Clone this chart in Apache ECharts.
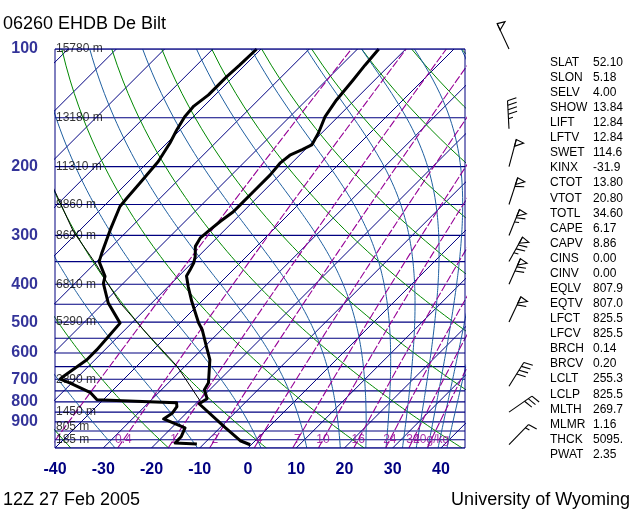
<!DOCTYPE html>
<html><head><meta charset="utf-8">
<script src="https://cdn.jsdelivr.net/npm/echarts@6/dist/echarts.min.js"></script>
<style>html,body{margin:0;padding:0;background:#fff}#c{width:640px;height:512px}</style>
</head><body><div id="c"></div>
<script>
// ---------------- data ----------------
const tempP = [1030,1006,933,809,785,745,715,624,582,523,502,443,406,381,368,353,340,320,305,290,276,261,251,232,210,196,187,181,176,164,149,135,120,110,100];
const tempT = [-0.2,-3.1,-8.8,-19.3,-18.7,-21.1,-21.7,-26.2,-29.3,-34.0,-36.2,-42.0,-45.8,-48.4,-48.9,-49.6,-50.6,-52.7,-53.4,-53.1,-52.7,-52.0,-52.0,-52.0,-52.0,-52.4,-52.0,-50.6,-49.6,-50.7,-52.7,-53.8,-54.5,-55.1,-55.6];
const dewP = [1026,1020,981,933,885,856,823,804,799,790,758,716,700,689,624,589,549,503,447,398,382,350,333,290,253,241,221,194,174,161,149,140,131,118,110,100];
const dewT = [-11.4,-16.1,-16.2,-17.2,-23.5,-22.9,-23.3,-24.2,-30.2,-41.3,-44.1,-50.3,-53.2,-53.1,-51.7,-51.7,-52.0,-52.4,-59.0,-64.1,-65.2,-69.5,-70.7,-73.8,-76.6,-76.9,-77.3,-78.0,-79.4,-80.7,-81.8,-82.1,-81.4,-81.4,-81.1,-80.9];
const parcelP = [798,649,523,488,447,394,353,293,227];
const parcelT = [-19.5,-31.6,-46.2,-50.7,-56.5,-63.8,-70.0,-81.1,-94.2];
const windP   = [1030,850,730,500,400,350,300,250,200,160,100];
const windDir = [44,55,32,25,24,29,22,18,15,357,335];
const windSpd = [15,30,40,60,70,75,65,60,50,45,50];
const pressureTicks = [100,200,300,400,500,600,700,800,900];
const tempTicks = [-40,-30,-20,-10,0,10,20,30,40];
const heightP = [100,150,200,250,300,400,500,700,850,925,1000];
const heightLabels = ['15780 m','13180 m','11310 m','9860 m','8690 m','6810 m','5290 m','2890 m','1450 m','805 m','185 m'];
const mixRatios = [0.1,0.4,1,2,4,7,10,16,24,32,40];
const mixLabels = ['','0.4','1','2','4','7','10','16','24','32','40g/kg'];
const indexNames = ['SLAT','SLON','SELV','SHOW','LIFT','LFTV','SWET','KINX','CTOT','VTOT','TOTL','CAPE','CAPV','CINS','CINV','EQLV','EQTV','LFCT','LFCV','BRCH','BRCV','LCLT','LCLP','MLTH','MLMR','THCK','PWAT'];
const indexValues = ['52.10','5.18','4.00','13.84','12.84','12.84','114.6','-31.9','13.80','20.80','34.60','6.17','8.86','0.00','0.00','807.9','807.0','825.5','825.5','0.14','0.20','255.3','825.5','269.7','1.16','5095.','2.35'];
const titleText = '06260 EHDB De Bilt';
const dateText = '12Z 27 Feb 2005';
const sourceText = 'University of Wyoming';

// ---------------- layout ----------------
const PTOP = 100, PBOT = 1050, XMIN = -40, XMAX = 45;
const G = {left:55, right:175, top:49, bottom:64};
const W = 640 - G.left - G.right, H = 512 - G.top - G.bottom;
const SKEW = (H / Math.log10(PBOT/PTOP)) / (W / (XMAX - XMIN)); // 45 degree isotherms
const sx = (T, p) => T + SKEW * Math.log10(PBOT / p);

const NAVY = '#000080', GREEN = '#008800', STEEL = '#1f5fa0', PURPLE = '#960096';

// ---------------- thermodynamic background ----------------
function es(T){ return 6.112*Math.exp(17.67*T/(T+243.5)); }
function ws(T,p){ const e = es(T); return 0.622*e/Math.max(p-e, 1e-3); }
function thetaE(T,p){ const K=T+273.15, w=ws(T,p); return K*Math.pow(1000/p,0.2857)*Math.exp(2.5e6*w/(1004*K)); }
function moistLapse(T,p){ const K=T+273.15, w=ws(T,p), Rd=287, cp=1004, L=2.5e6;
  return (Rd*K + L*w)/(p*(cp + L*L*w*0.622/(Rd*K*K))); }
const levels = []; for (let p = PBOT; p >= PTOP; p -= 10) levels.push(p);

const bg = [];
function addLine(pts, color, width, dash){
  bg.push({type:'line', data:pts, showSymbol:false, symbol:'none', silent:true, clip:true,
    lineStyle:{color, width, type: dash || 'solid'}, z:1, animation:false});
}
// isobars
for (let p = PTOP; p <= PBOT; p += 50) addLine([[XMIN,p],[XMAX,p]], NAVY, 1.1);
// isotherms
for (let T = -140; T <= 40; T += 10) addLine([[sx(T,PBOT),PBOT],[sx(T,PTOP),PTOP]], NAVY, 1);
// dry adiabats
for (let th = -60; th <= 240; th += 20) {
  const K = th + 273.15;
  addLine(levels.map(p => [sx(K*Math.pow(p/1000,0.2857)-273.15, p), p]), GREEN, 1);
}
// moist adiabats
for (let te = 243.15; te <= 463.15; te += 20) {
  let lo=-90, hi=60;
  for (let k=0;k<60;k++){ const m=(lo+hi)/2; if (thetaE(m,PBOT)>te) hi=m; else lo=m; }
  let T=(lo+hi)/2, p=PBOT; const pts=[[sx(T,p),p]];
  while (p > PTOP + 1e-6) { const dp=-5; const k1=moistLapse(T,p); const k2=moistLapse(T+k1*dp/2,p+dp/2); T+=k2*dp; p+=dp; pts.push([sx(T,p),p]); }
  addLine(pts, STEEL, 1);
}
// mixing ratio lines
function mixT(w,p){ const e=(w/1000)*p/(0.622+w/1000); const l=Math.log(e/6.112); return 243.5*l/(17.67-l); }
mixRatios.forEach(w => addLine(levels.map(p => [sx(mixT(w,p),p),p]), PURPLE, 1.1, [8,2]));

// ---------------- chart ----------------
const chart = echarts.init(document.getElementById('c'), null, {renderer:'canvas'});
const labelFont = 'Liberation Sans';

const series = bg.concat([
  {type:'scatter', data: mixRatios.map((w,i)=>[sx(mixT(w,1000),1000),1000,i]), symbolSize:0, silent:true, clip:false, z:3,
   label:{show:true, position:'inside', color:PURPLE, fontSize:12, fontFamily:labelFont, formatter:(d)=>mixLabels[d.value[2]]}},
  {type:'scatter', data: heightP.map((p,i)=>[XMIN,p,i]), symbolSize:0, silent:true, clip:false, z:3,
   label:{show:true, position:'right', distance:1, color:'#000', fontSize:12, fontFamily:labelFont, formatter:(d)=>heightLabels[d.value[2]]}},
  {type:'scatter', data: pressureTicks.map(p=>[XMIN,p]), symbolSize:0, silent:true, clip:false, z:3,
   label:{show:true, position:'left', distance:17, color:NAVY, fontSize:16, fontWeight:'bold', fontFamily:labelFont, formatter:(d)=>String(d.value[1])}},
  {type:'line', data: parcelP.map((p,i)=>[sx(parcelT[i],p),p]), showSymbol:false, symbol:'none', clip:true, z:4,
   lineStyle:{color:'#000', width:1}},
  {type:'line', data: dewP.map((p,i)=>[sx(dewT[i],p),p]), showSymbol:false, symbol:'none', clip:true, z:5,
   lineStyle:{color:'#000', width:3, join:'round'}},
  {type:'line', data: tempP.map((p,i)=>[sx(tempT[i],p),p]), showSymbol:false, symbol:'none', clip:true, z:5,
   lineStyle:{color:'#000', width:3, join:'round'}},
  {type:'custom', xAxisIndex:1, yAxisIndex:1, clip:false, z:5,
   data: windP.map((p,i)=>[0,p,windDir[i],windSpd[i]]),
   renderItem:(params, api) => {
     const b = api.coord([api.value(0), api.value(1)]);
     const d = api.value(2)*Math.PI/180; let r = Math.round(api.value(3)/5)*5;
     const ux=Math.sin(d), uy=-Math.cos(d), nx=-uy, ny=ux, L=28;
     const tip=[b[0]+ux*L, b[1]+uy*L];
     const st={stroke:'#000', lineWidth:1.1, fill:'rgba(0,0,0,0)'};
     const ch=[{type:'line', shape:{x1:b[0],y1:b[1],x2:tip[0],y2:tip[1]}, style:st}];
     let pos=0;
     const at = q => [tip[0]-ux*q, tip[1]-uy*q];
     while (r >= 50) { const a=at(pos), c=at(pos+7); const ap=[a[0]+nx*8-ux*1.5, a[1]+ny*8-uy*1.5];
       ch.push({type:'polygon', shape:{points:[a,ap,c]}, style:st}); pos+=9; r-=50; }
     while (r >= 10) { const a=at(pos);
       ch.push({type:'line', shape:{x1:a[0],y1:a[1],x2:a[0]+nx*9+ux*2.5,y2:a[1]+ny*9+uy*2.5}, style:st}); pos+=4.5; r-=10; }
     if (r >= 5) { if (pos===0) pos=4.5; const a=at(pos);
       ch.push({type:'line', shape:{x1:a[0],y1:a[1],x2:a[0]+nx*4.5+ux*1.2,y2:a[1]+ny*4.5+uy*1.2}, style:st}); }
     return {type:'group', children:ch};
   }}
]);

const graphic = [
  {type:'text', x:3, y:24, style:{text:titleText, font:'18px "Liberation Sans"', fill:'#000', verticalAlign:'middle'}},
  {type:'text', x:3, y:500, style:{text:dateText, font:'18px "Liberation Sans"', fill:'#000', verticalAlign:'middle'}},
  {type:'text', x:630, y:500, style:{text:sourceText, font:'18px "Liberation Sans"', fill:'#000', align:'right', verticalAlign:'middle'}}
];
indexNames.forEach((n,i) => {
  const y = 62.5 + i*15.08;
  graphic.push({type:'text', x:550, y, style:{text:n, font:'12px "Liberation Sans"', fill:'#000', verticalAlign:'middle'}});
  graphic.push({type:'text', x:593, y, style:{text:indexValues[i], font:'12px "Liberation Sans"', fill:'#000', verticalAlign:'middle'}});
});

chart.setOption({
  animation:false,
  backgroundColor:'#fff',
  grid:[
    {left:G.left, right:G.right, top:G.top, bottom:G.bottom, show:true, borderColor:NAVY, borderWidth:1, backgroundColor:'rgba(0,0,0,0)', z:6},
    {left:499, right:121, top:G.top, bottom:G.bottom, show:false}
  ],
  xAxis:[
    {type:'value', min:XMIN, max:XMAX, interval:10, gridIndex:0,
     axisLine:{show:false}, axisTick:{show:false}, splitLine:{show:false},
     axisLabel:{color:NAVY, fontSize:16, fontWeight:'bold', fontFamily:labelFont, margin:14,
       formatter:(v)=> tempTicks.indexOf(v) >= 0 ? String(v) : ''}},
    {type:'value', min:-1, max:1, gridIndex:1, show:false}
  ],
  yAxis:[
    {type:'log', logBase:10, min:PTOP, max:PBOT, inverse:true, gridIndex:0,
     axisLine:{show:false}, axisTick:{show:false}, splitLine:{show:false}, axisLabel:{show:false}},
    {type:'log', logBase:10, min:PTOP, max:PBOT, inverse:true, gridIndex:1, show:false}
  ],
  graphic,
  series
});
</script></body></html>
